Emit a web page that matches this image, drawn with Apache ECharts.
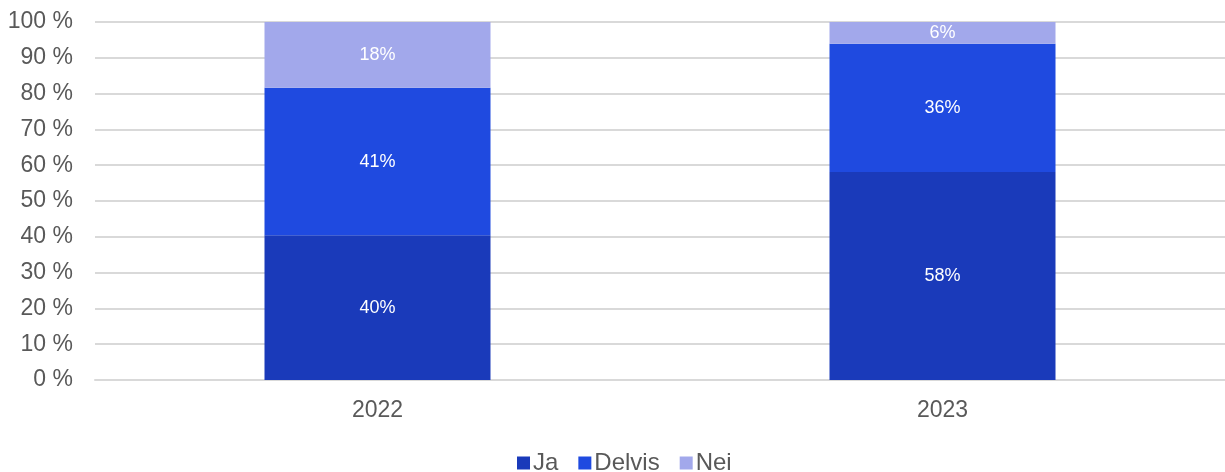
<!DOCTYPE html>
<html><head><meta charset="utf-8">
<script src="https://cdn.jsdelivr.net/npm/echarts@6/dist/echarts.min.js"></script>
<style>html,body{margin:0;padding:0;background:#fff}#c{width:1225px;height:472px}</style>
</head><body><div id="c"></div>
<script>
const categories = ['2022', '2023'];
const ja = [40.4, 58.1];
const delvis = [41.2, 35.8];
const nei = [18.4, 6.1];
const yTicks = [0, 10, 20, 30, 40, 50, 60, 70, 80, 90, 100];

const font = 'Liberation Sans, Arial, sans-serif';
const chart = echarts.init(document.getElementById('c'));
function mk(name, data, color) {
  return {
    name, type: 'bar', stack: 's', data, barWidth: '40%',
    itemStyle: { color },
    label: { show: true, position: 'inside', color: '#fff', fontFamily: font, fontSize: 18,
      formatter: p => Math.round(p.value) + '%' }
  };
}
chart.setOption({
  animation: false,
  grid: { left: 95, right: -6, top: 22, bottom: 92 },
  legend: {
    top: 446, left: 512, itemWidth: 13, itemHeight: 13, itemGap: 20,
    icon: 'rect',
    textStyle: { color: '#595959', fontFamily: font, fontSize: 24, padding: [0, 0, 0, -2] },
    data: ['Ja', 'Delvis', 'Nei']
  },
  xAxis: {
    type: 'category', data: categories,
    axisLine: { lineStyle: { color: '#d9d9d9', width: 2 } },
    axisTick: { show: false },
    axisLabel: { color: '#595959', fontFamily: font, fontSize: 23, margin: 19 }
  },
  yAxis: {
    type: 'value', min: yTicks[0], max: yTicks[yTicks.length - 1], interval: 10,
    axisLine: { show: false }, axisTick: { show: false },
    splitLine: { lineStyle: { color: '#d9d9d9', width: 2 } },
    axisLabel: { color: '#595959', fontFamily: font, fontSize: 23, margin: 22, formatter: v => v + ' %' }
  },
  series: [
    mk('Ja', ja, '#1a3aba'),
    mk('Delvis', delvis, '#1f4ae0'),
    mk('Nei', nei, '#a2a8eb')
  ]
});
</script></body></html>
